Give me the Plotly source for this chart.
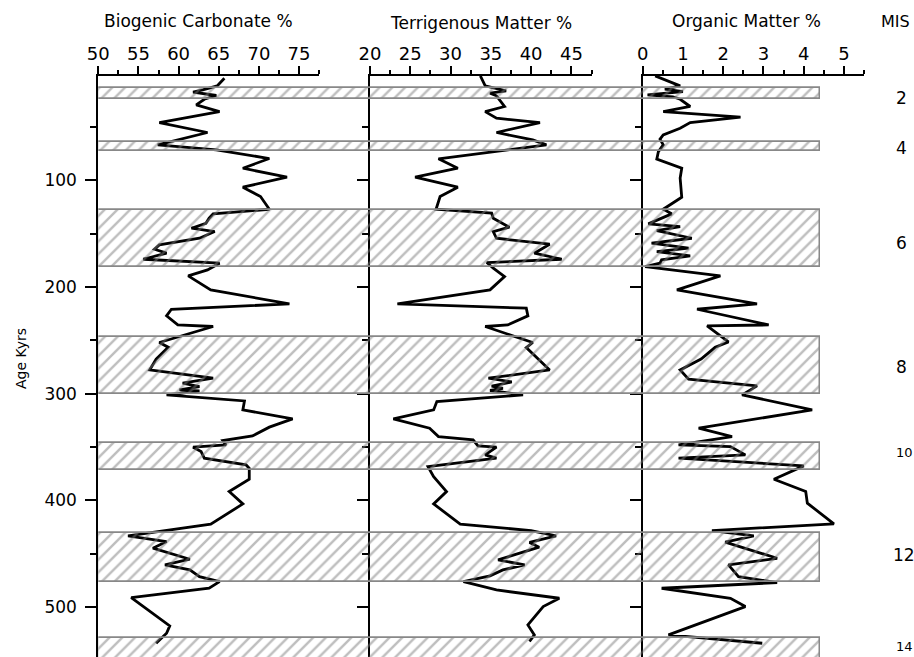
import plotly.graph_objects as go

# ---------------- data ----------------
carb_age = [4.1, 11.3, 15.0, 17.2, 20.3, 23.8, 29.1, 35.4, 45.7, 55.0, 66.6, 71.3, 79.4, 88.5, 96.9,
            106.3, 115.1, 127.0, 131.3, 135.4, 140.1, 144.8, 147.9, 154.2, 160.4, 164.5, 168.2, 173.9,
            177.6, 183.9, 189.5, 202.6, 215.8, 220.8, 227.0, 235.5, 237.0, 252.0, 256.4, 267.6, 277.7,
            285.5, 290.2, 293.3, 296.4, 297.5, 301.1, 306.8, 315.2, 323.6, 331.4, 339.6, 344.0, 348.0,
            350.2, 354.3, 360.5, 366.8, 369.9, 380.2, 391.8, 403.4, 422.4, 433.4, 438.7, 444.9, 455.3,
            460.6, 465.3, 471.6, 476.3, 482.5, 491.3, 517.8, 524.7, 534.1]
carb_val = [65.7, 64.8, 63.0, 61.8, 64.7, 63.2, 62.2, 65.1, 57.6, 63.6, 57.4, 64.7, 71.3, 68.0, 73.5,
            68.0, 70.2, 71.3, 64.3, 63.8, 63.4, 61.6, 64.5, 62.6, 57.6, 57.0, 58.5, 55.6,
            65.1, 63.6, 61.2, 64.0, 73.8, 59.1, 58.5, 59.9, 64.3, 57.6, 58.7, 57.2, 56.4,
            64.3, 60.5, 62.6, 60.1, 62.6, 58.5, 68.2, 68.0, 74.2, 71.3, 69.2, 65.5, 65.9,
            61.8, 62.8, 63.2, 68.4, 68.8, 68.8, 66.3, 68.0, 64.0, 53.7, 58.5, 56.8, 61.4,
            58.3, 61.4, 62.6, 65.1, 63.8, 54.1, 58.9, 58.5, 57.2]

terr_age = [1.9, 11.3, 15.9, 18.1, 20.6, 30.6, 35.4, 41.6, 45.7, 55.0, 61.9, 66.6, 79.7, 88.5, 96.9,
            106.3, 115.1, 127.0, 130.7, 135.4, 143.8, 147.9, 154.2, 159.8, 168.2, 173.9, 177.0, 182.3,
            190.1, 202.6, 215.8, 219.8, 227.0, 235.5, 237.0, 252.0, 256.8, 277.7, 285.5, 289.0, 293.0,
            295.0, 297.0, 301.1, 307.4, 315.2, 323.6, 332.4, 340.2, 343.3, 349.0, 350.2, 357.4, 360.5,
            368.4, 377.8, 391.8, 403.4, 422.4, 428.4, 433.4, 439.5, 444.0, 455.9, 460.6, 465.3, 470.9,
            476.3, 484.1, 491.9, 499.7, 516.9, 526.3, 532.5]
terr_val = [33.7, 34.3, 36.9, 34.9, 35.7, 36.7, 34.3, 35.7, 41.1, 35.7, 40.2, 41.9, 28.5, 30.9, 25.6,
            30.9, 28.7, 28.2, 35.1, 35.3, 37.3, 35.3, 35.7, 42.3, 40.4, 43.8, 34.5, 35.3,
            36.7, 34.9, 23.4, 39.4, 39.6, 37.1, 34.3, 40.2, 39.4, 42.3, 34.7, 37.6, 35.1,
            36.5, 34.9, 39.0, 28.3, 27.9, 22.9, 27.4, 28.5, 32.8, 33.4, 35.7, 34.3, 35.7,
            27.2, 27.9, 29.5, 27.9, 31.2, 40.0, 43.1, 39.8, 41.0, 35.9, 39.2, 36.5, 34.9,
            31.6, 35.7, 43.5, 41.5, 39.6, 40.4, 39.8]

om_age = [1.9, 11.3, 14.4, 16.6, 19.7, 21.5, 23.8, 30.6, 35.4, 40.6, 45.7, 51.0, 57.2, 61.3, 66.6,
          72.9, 80.0, 88.5, 97.8, 115.7, 127.0, 131.3, 140.7, 143.2, 147.0, 154.2, 158.8, 163.5,
          166.7, 170.7, 174.5, 177.6, 180.8, 189.5, 202.6, 215.8, 220.8, 235.5, 236.4, 251.5, 256.5,
          267.5, 277.7, 286.4, 292.7, 301.1, 315.2, 332.4, 340.2, 348.0, 349.6, 357.4, 360.5, 367.7,
          380.2, 391.8, 402.7, 422.1, 428.4, 433.4, 439.3, 454.4, 460.6, 471.6, 477.2, 482.5, 491.9,
          499.7, 526.3, 534.1]
om_val = [0.31, 0.93, 0.55, 1.00, 0.12, 0.75, 0.93, 1.18, 0.51, 2.43, 1.18, 0.93, 0.51, 0.43, 0.51,
          0.39, 0.35, 0.97, 0.93, 0.97, 0.51, 0.72, 0.14, 0.93, 0.35, 1.22, 0.22, 1.14,
          0.35, 1.18, 0.47, 0.43, 0.06, 1.93, 0.85, 2.84, 1.35, 3.13, 1.60, 2.13, 1.80,
          1.45, 0.93, 1.14, 2.84, 2.47, 4.21, 1.39, 2.22, 0.89, 2.18, 2.55, 0.89, 4.00,
          3.26, 4.05, 4.09, 4.75, 1.72, 2.76, 2.05, 3.34, 2.13, 2.38, 3.34, 0.47, 2.18,
          2.55, 0.64, 2.97]

# Marine isotope stage bands (glacial stages), ages in kyr
band_top = [13.5, 63.5, 128.0, 246.5, 346.0, 431.0, 529.5]
band_bottom = [24.0, 72.0, 181.5, 300.0, 371.5, 476.5, 565.0]
mis_labels = ["2", "4", "6", "8", "10", "12", "14"]
mis_label_age = [22.2, 69.4, 158.3, 274.6, 355.5, 451.2, 537.2]
mis_label_size = [17, 17, 17, 17, 13, 17, 13]

titles = ["Biogenic Carbonate %", "Terrigenous Matter %", "Organic Matter %"]

# ---------------- figure ----------------
W, H = 914, 657
FONT = "DejaVu Sans, Liberation Sans, Arial"

def px_x(p):
    return p / W

def px_y(p):
    return 1 - p / H

y_dom = [0, px_y(76)]
age_range = [547, 2]

fig = go.Figure()

line_style = dict(color="black", width=2.8)
fig.add_trace(go.Scatter(x=carb_val, y=carb_age, mode="lines", line=line_style, xaxis="x", yaxis="y",
                         hoverinfo="skip"))
fig.add_trace(go.Scatter(x=terr_val, y=terr_age, mode="lines", line=line_style, xaxis="x2", yaxis="y2",
                         hoverinfo="skip"))
fig.add_trace(go.Scatter(x=om_val, y=om_age, mode="lines", line=line_style, xaxis="x3", yaxis="y3",
                         hoverinfo="skip"))

centers = [(a + b) / 2 for a, b in zip(band_top, band_bottom)]
heights = [b - a for a, b in zip(band_top, band_bottom)]
fig.add_trace(go.Bar(
    orientation="h", y=centers, x=[1] * len(centers), base=0, width=heights,
    xaxis="x4", yaxis="y4", hoverinfo="skip",
    marker=dict(color="rgba(0,0,0,0)", line=dict(color="#888888", width=1.8),
                pattern=dict(shape="/", size=9, solidity=0.27, fgcolor="#7d7d7d",
                             bgcolor="rgba(0,0,0,0)", fillmode="overlay"))
))

tickfont_x = dict(family=FONT, size=18, color="black")
tickfont_y = dict(family=FONT, size=17, color="black")

def xaxis_def(dom, rng, dtick, minor, anchor):
    return dict(domain=[px_x(dom[0]), px_x(dom[1])], range=rng, side="top", anchor=anchor,
                showline=True, linecolor="black", linewidth=2, mirror=False, automargin=False,
                ticks="outside", ticklen=8, tickwidth=1.6, tickcolor="black",
                tick0=rng[0], dtick=dtick, tickfont=tickfont_x, ticklabelstandoff=-1,
                minor=dict(dtick=minor, tick0=rng[0], ticks="outside", ticklen=4.5, tickwidth=1.6,
                           tickcolor="black", showgrid=False),
                showgrid=False, zeroline=False, fixedrange=True)

def yaxis_def(anchor, labels):
    return dict(domain=y_dom, range=age_range, anchor=anchor, automargin=False,
                showline=True, linecolor="black", linewidth=2,
                ticks="outside", ticklen=11, tickwidth=1.6, tickcolor="black",
                tick0=0, dtick=100, showticklabels=labels, tickfont=tickfont_y,
                ticklabelstandoff=5,
                minor=dict(dtick=50, tick0=0, ticks="outside", ticklen=6, tickwidth=1.6,
                           tickcolor="black", showgrid=False),
                showgrid=False, zeroline=False, fixedrange=True)

xa1 = xaxis_def([98.3, 319.3], [50, 77.52], 5, 2.5, "y")
xa2 = xaxis_def([370.0, 591.7], [20, 47.52], 5, 2.5, "y2")
xa3 = xaxis_def([642.7, 864.3], [0, 5.505], 1, 0.5, "y3")

ya1 = yaxis_def("x", True)
ya2 = yaxis_def("x2", False); ya2["matches"] = "y"
ya3 = yaxis_def("x3", False); ya3["matches"] = "y"

fig.update_layout(
    width=W, height=H,
    margin=dict(l=0, r=0, t=0, b=0, pad=0, autoexpand=False),
    paper_bgcolor="white", plot_bgcolor="rgba(0,0,0,0)",
    showlegend=False,
    bargap=0,
    xaxis=xa1, xaxis2=xa2, xaxis3=xa3,
    yaxis=ya1, yaxis2=ya2, yaxis3=ya3,
    xaxis4=dict(domain=[px_x(98.3), px_x(820)], range=[0, 1], visible=False, anchor="y4",
                fixedrange=True, automargin=False),
    yaxis4=dict(domain=y_dom, range=age_range, visible=False, anchor="x4", matches="y",
                fixedrange=True, automargin=False),
    font=dict(family=FONT, color="black"),
)

annotations = []
title_x = [198, 481, 746]
title_y = [21, 22.5, 21]
for t, x, y in zip(titles, title_x, title_y):
    annotations.append(dict(text=t, x=px_x(x), y=px_y(y), xref="paper", yref="paper",
                            xanchor="center", yanchor="middle", showarrow=False,
                            font=dict(family=FONT, size=17, color="black")))
annotations.append(dict(text="MIS", x=px_x(895), y=px_y(21), xref="paper", yref="paper",
                        xanchor="center", yanchor="middle", showarrow=False,
                        font=dict(family=FONT, size=16, color="black")))
annotations.append(dict(text="Age Kyrs", x=px_x(21), y=px_y(359), xref="paper", yref="paper",
                        xanchor="center", yanchor="middle", showarrow=False, textangle=-90,
                        font=dict(family=FONT, size=14, color="black")))
for lab, age, sz in zip(mis_labels, mis_label_age, mis_label_size):
    annotations.append(dict(text=lab, x=px_x(901 if len(lab) == 1 else 904), y=age,
                            xref="paper", yref="y", xanchor="center", yanchor="middle",
                            showarrow=False, font=dict(family=FONT, size=sz, color="black")))
fig.update_layout(annotations=annotations)

fig.write_html("out.html", config={"displayModeBar": False},
               post_script="document.body.style.margin='0px';")
